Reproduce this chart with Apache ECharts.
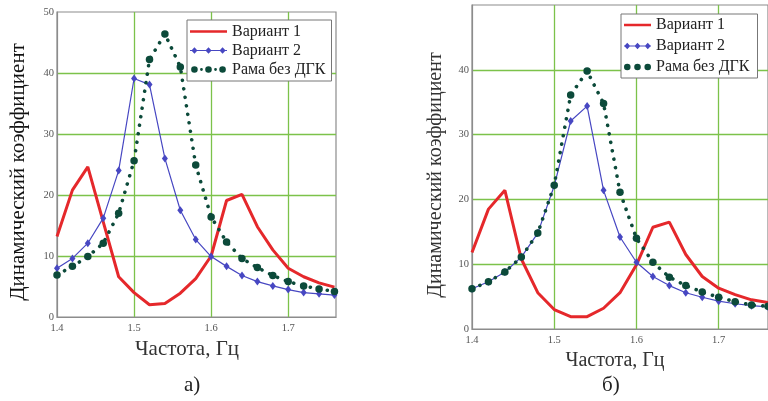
<!DOCTYPE html>
<html>
<head>
<meta charset="utf-8">
<script src="https://cdn.jsdelivr.net/npm/echarts@6/dist/echarts.min.js"></script>
<style>
html,body{margin:0;padding:0;background:#fff;}
#c{width:768px;height:401px;}
</style>
</head>
<body>
<div id="c"></div>
<script>
// ---- data ----
const freq = [1.40,1.42,1.44,1.46,1.48,1.50,1.52,1.54,1.56,1.58,1.60,1.62,1.64,1.66,1.68,1.70,1.72,1.74,1.76];
const seriesNames = ['Вариант 1','Вариант 2','Рама без ДГК'];
// chart а)
const aVariant1 = [13.2,20.8,24.6,15.6,6.6,4.0,2.0,2.2,3.9,6.3,10.0,19.1,20.1,14.8,11.0,8.0,6.6,5.6,4.9];
const aVariant2 = [8.0,9.6,12.1,16.2,24.0,39.1,38.1,26.0,17.5,12.7,9.9,8.3,6.8,5.8,5.1,4.5,4.0,3.8,3.6];
const aFrame    = [6.9,8.3,9.9,12.1,17.0,25.6,42.2,46.4,41.0,24.9,16.4,12.3,9.6,8.1,6.8,5.8,5.1,4.6,4.2];
// chart б)
const bVariant1 = [11.8,18.5,21.4,10.8,5.6,3.0,1.9,1.9,3.2,5.6,9.9,15.7,16.5,11.5,8.1,6.3,5.3,4.5,4.1];
const bVariant2 = [6.2,7.3,8.8,11.1,14.8,22.1,32.1,34.4,21.4,14.2,10.3,8.1,6.7,5.6,4.9,4.3,3.9,3.6,3.4];
const bFrame    = [6.2,7.3,8.8,11.1,14.8,22.2,36.1,39.8,34.8,21.1,14.0,10.3,8.0,6.7,5.7,4.9,4.2,3.7,3.5];
const yTicks = [0,10,20,30,40,50];
const xTitle = 'Частота, Гц';
const yTitle = 'Динамический коэффициент';
const captions = ['а)','б)'];

// ---- styles ----
const FONT = '"Liberation Serif", "DejaVu Serif", serif';
const RED = '#e5282b', BLUE = '#4747c2', GREEN = '#0c4a3a', GRIDC = '#7cc24a', FRAME = '#8c8c8c';

function pair(vals){ return freq.map((f,i)=>[f, vals[i]]); }

function corners(W,H){ return `M0,0L0.01,0L0,0.01Z M${W},${H}L${W-0.01},${H}L${W},${H-0.01}Z `; }
function circle(cx,cy,r){ return `M${cx-r},${cy}A${r},${r} 0 1,1 ${cx+r},${cy}A${r},${r} 0 1,1 ${cx-r},${cy}Z `; }
function diamond(cx,cy,rx,ry){ return `M${cx-rx},${cy}L${cx},${cy-ry}L${cx+rx},${cy}L${cx},${cy+ry}Z `; }
function icons(W,H,dots){
  const m = H/2;
  const red = 'path://' + corners(W,H) + `M0,${m-1.3}L${W},${m-1.3}L${W},${m+1.3}L0,${m+1.3}Z`;
  let blue = 'path://' + corners(W,H) + `M0,${m-0.6}L${W},${m-0.6}L${W},${m+0.6}L0,${m+0.6}Z `;
  [0.12,0.5,0.88].forEach(p=>{ blue += diamond(W*p, m, 3, 3.3); });
  let green = 'path://' + corners(W,H);
  [0.12,0.5,0.88].forEach(p=>{ green += circle(W*p, m, 3.3); });
  if (dots) [0.31,0.69].forEach(p=>{ green += circle(W*p, m, 1.4); });
  return [red, blue, green];
}
const colors = [RED, BLUE, GREEN];

function legend(left, top, W, gap, pad, dots){
  const ic = icons(W, 16, dots);
  return {
    left: left, top: top, orient: 'vertical',
    backgroundColor: '#fff', borderColor: '#777', borderWidth: 1,
    padding: pad, itemGap: gap, itemWidth: W, itemHeight: 16, itemTextGap: 3,
    symbolKeepAspect: false,
    textStyle: {fontFamily: FONT, fontSize: 16, color: '#222', lineHeight: 16},
    data: seriesNames.map((n,i)=>({name: n, icon: ic[i], itemStyle: {color: colors[i], borderWidth: 0}}))
  };
}

function xAxis(gi, max, gap, size, padR){
  return {
    type: 'value', gridIndex: gi, min: 1.4, max: max, interval: 0.1,
    axisLine: {show: true, lineStyle: {color: FRAME, width: 1.2}},
    axisTick: {show: false},
    axisLabel: {fontFamily: FONT, fontSize: 10.5, color: '#555', margin: 6, showMaxLabel: false,
      formatter: v => v.toFixed(1)},
    splitLine: {show: true, showMinLine: false, showMaxLine: false, lineStyle: {color: GRIDC, width: 1.3}},
    name: xTitle, nameLocation: 'middle', nameGap: gap,
    nameTextStyle: {fontFamily: FONT, fontSize: size, color: '#333', padding: [0, padR, 0, 0]}
  };
}
function yAxis(gi, showMax, gap, size, padR, color){
  return {
    type: 'value', gridIndex: gi, min: yTicks[0], max: yTicks[yTicks.length-1], interval: 10,
    axisLine: {show: true, lineStyle: {color: FRAME, width: 1.2}},
    axisTick: {show: false},
    axisLabel: {fontFamily: FONT, fontSize: 10.5, color: '#555', margin: 3, showMaxLabel: showMax},
    splitLine: {show: true, showMinLine: false, showMaxLine: false, lineStyle: {color: GRIDC, width: 1.3}},
    name: yTitle, nameLocation: 'middle', nameGap: gap,
    nameTextStyle: {fontFamily: FONT, fontSize: size, color: color, padding: [0, padR, 0, 0]}
  };
}

function seriesFor(gi, v1, v2, fr){
  return [
    {name: seriesNames[0], type: 'line', xAxisIndex: gi, yAxisIndex: gi, data: pair(v1),
     symbol: 'none', lineStyle: {color: RED, width: 3}, itemStyle: {color: RED}, z: 3},
    {name: seriesNames[1], type: 'line', xAxisIndex: gi, yAxisIndex: gi, data: pair(v2),
     symbol: 'diamond', symbolSize: [6, 8], showSymbol: true,
     lineStyle: {color: BLUE, width: 1.2}, itemStyle: {color: BLUE, borderWidth: 0}, z: 4},
    {name: seriesNames[2], type: 'line', xAxisIndex: gi, yAxisIndex: gi, data: pair(fr),
     symbol: 'circle', symbolSize: 7.5, showSymbol: true,
     lineStyle: {color: GREEN, width: 3.6, type: [0.1, 8.5], cap: 'round'},
     itemStyle: {color: GREEN, borderWidth: 0}, z: 5}
  ];
}

const chart = echarts.init(document.getElementById('c'), null, {renderer: 'canvas'});
chart.setOption({
  animation: false,
  backgroundColor: '#fff',
  grid: [
    {left: 57, top: 12, width: 279, height: 305, show: true, borderColor: FRAME, borderWidth: 1.2, backgroundColor: '#fff', containLabel: false},
    {left: 472, top: 5, width: 298, height: 324, show: true, borderColor: FRAME, borderWidth: 1.2, backgroundColor: '#fff', containLabel: false}
  ],
  xAxis: [xAxis(0, 1.762, 19, 21, 19), xAxis(1, 1.76, 20, 20, 10)],
  yAxis: [yAxis(0, true, 28, 21, 15, '#111'), yAxis(1, false, 26, 20, 16, '#333')],
  legend: [legend(187, 20, 37, 3, [3.5, 6, 3.5, 3], true), legend(621, 14, 27, 5, [3, 8, 3, 3], false)],
  graphic: [
    {type: 'text', left: 184, top: 375, style: {text: captions[0], font: '21px ' + FONT, fill: '#222'}},
    {type: 'text', left: 602, top: 375, style: {text: captions[1], font: '21px ' + FONT, fill: '#222'}}
  ],
  series: [].concat(seriesFor(0, aVariant1, aVariant2, aFrame), seriesFor(1, bVariant1, bVariant2, bFrame))
});
</script>
</body>
</html>
